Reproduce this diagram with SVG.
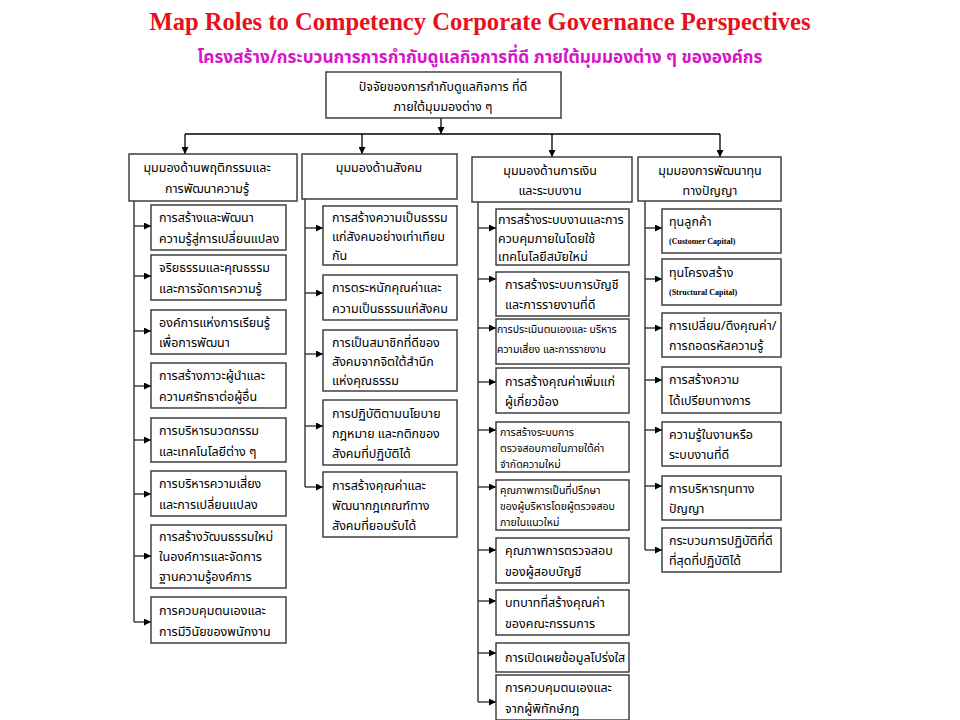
<svg xmlns="http://www.w3.org/2000/svg" width="960" height="720" viewBox="0 0 960 720">
<defs>
<marker id="ar" viewBox="0 0 10 10" refX="10" refY="5" markerWidth="8" markerHeight="7" markerUnits="userSpaceOnUse" orient="auto">
<path d="M0,0 L10,5 L0,10 z" fill="#000"/>
</marker>
<style>
.box{fill:#fff;stroke:#333;stroke-width:1.4}
.ln{fill:none;stroke:#333;stroke-width:1.4}
.lk{fill:none;stroke:#000;stroke-width:1.3}
.t{font-family:"Noto Sans Thai","Noto Sans","DejaVu Sans",sans-serif;font-size:12.5px;fill:#000}
.s{font-family:"Noto Sans Thai","Noto Sans","DejaVu Sans",sans-serif;font-size:10.5px;fill:#000}
.c{text-anchor:middle}
.e{font-family:"Liberation Serif",serif;font-size:8px;font-weight:bold;fill:#000}
</style>
</defs>
<rect width="960" height="720" fill="#fff"/>
<g id="title">
<text x="480" y="30" text-anchor="middle" font-family="'Liberation Serif',serif" font-weight="bold" font-size="24.6" fill="#e8101c">Map Roles to Competency Corporate Governance Perspectives</text>
<text x="480" y="63" text-anchor="middle" font-family="'Noto Sans Thai','Noto Sans',sans-serif" font-weight="bold" font-size="18" fill="#d616c8" textLength="565" lengthAdjust="spacingAndGlyphs">โครงสร้าง/กระบวนการการกำกับดูแลกิจการที่ดี ภายใต้มุมมองต่าง ๆ ขององค์กร</text>
</g>
<g id="connectors">
<path class="lk" d="M441,118 V134" marker-end="url(#ar)"/>
<path class="lk" d="M185,134 H720"/>
<path class="lk" d="M185,134 V154" marker-end="url(#ar)"/>
<path class="lk" d="M362,134 V154" marker-end="url(#ar)"/>
<path class="lk" d="M552,134 V157" marker-end="url(#ar)"/>
<path class="lk" d="M720,134 V157" marker-end="url(#ar)"/>
<path class="ln" d="M134,201 V622"/>
<path class="ln" d="M134,226 H151" marker-end="url(#ar)"/>
<path class="ln" d="M134,276 H151" marker-end="url(#ar)"/>
<path class="ln" d="M134,331 H151" marker-end="url(#ar)"/>
<path class="ln" d="M134,386 H151" marker-end="url(#ar)"/>
<path class="ln" d="M134,440 H151" marker-end="url(#ar)"/>
<path class="ln" d="M134,494 H151" marker-end="url(#ar)"/>
<path class="ln" d="M134,556 H151" marker-end="url(#ar)"/>
<path class="ln" d="M134,622 H151" marker-end="url(#ar)"/>
<path class="ln" d="M305,199 V487"/>
<path class="ln" d="M305,228 H323" marker-end="url(#ar)"/>
<path class="ln" d="M305,293 H323" marker-end="url(#ar)"/>
<path class="ln" d="M305,354 H323" marker-end="url(#ar)"/>
<path class="ln" d="M305,426 H323" marker-end="url(#ar)"/>
<path class="ln" d="M305,487 H323" marker-end="url(#ar)"/>
<path class="ln" d="M478,202 V702"/>
<path class="ln" d="M478,228 H496" marker-end="url(#ar)"/>
<path class="ln" d="M478,279 H496" marker-end="url(#ar)"/>
<path class="ln" d="M478,328 H496" marker-end="url(#ar)"/>
<path class="ln" d="M478,382 H496" marker-end="url(#ar)"/>
<path class="ln" d="M478,430 H496" marker-end="url(#ar)"/>
<path class="ln" d="M478,487 H496" marker-end="url(#ar)"/>
<path class="ln" d="M478,550 H496" marker-end="url(#ar)"/>
<path class="ln" d="M478,601 H496" marker-end="url(#ar)"/>
<path class="ln" d="M478,653 H496" marker-end="url(#ar)"/>
<path class="ln" d="M478,702 H496" marker-end="url(#ar)"/>
<path class="ln" d="M645,201 V550"/>
<path class="ln" d="M645,228 H662" marker-end="url(#ar)"/>
<path class="ln" d="M645,279 H662" marker-end="url(#ar)"/>
<path class="ln" d="M645,328 H662" marker-end="url(#ar)"/>
<path class="ln" d="M645,380 H662" marker-end="url(#ar)"/>
<path class="ln" d="M645,430 H662" marker-end="url(#ar)"/>
<path class="ln" d="M645,486 H662" marker-end="url(#ar)"/>
<path class="ln" d="M645,550 H662" marker-end="url(#ar)"/>
</g>
<g id="root"><rect class="box" x="326" y="72" width="235" height="46"/>
<text class="t c" x="443" y="91">ปัจจัยของการกำกับดูแลกิจการ ที่ดี</text>
<text class="t c" x="443" y="111">ภายใต้มุมมองต่าง ๆ</text></g>
<g id="h1"><rect class="box" x="129" y="154" width="168" height="47"/>
<text class="t c" x="207" y="172">มุมมองด้านพฤติกรรมและ</text>
<text class="t c" x="207" y="193">การพัฒนาความรู้</text></g>
<g id="h2"><rect class="box" x="302" y="154" width="155" height="45"/>
<text class="t c" x="379" y="172">มุมมองด้านสังคม</text></g>
<g id="h3"><rect class="box" x="472" y="157" width="160" height="45"/>
<text class="t c" x="550" y="175">มุมมองด้านการเงิน</text>
<text class="t c" x="550" y="195">และระบบงาน</text></g>
<g id="h4"><rect class="box" x="638" y="157" width="143" height="44"/>
<text class="t c" x="710" y="175">มุมมองการพัฒนาทุน</text>
<text class="t c" x="710" y="195">ทางปัญญา</text></g>

<g id="a1"><rect class="box" x="151" y="205" width="135" height="45"/>
<text class="t" x="159" y="222">การสร้างและพัฒนา</text><text class="t" x="159" y="243">ความรู้สู่การเปลี่ยนแปลง</text></g>
<g id="a2"><rect class="box" x="151" y="255" width="135" height="45"/>
<text class="t" x="159" y="272">จริยธรรมและคุณธรรม</text><text class="t" x="159" y="293">และการจัดการความรู้</text></g>
<g id="a3"><rect class="box" x="151" y="310" width="135" height="44"/>
<text class="t" x="159" y="327">องค์การแห่งการเรียนรู้</text><text class="t" x="159" y="347">เพื่อการพัฒนา</text></g>
<g id="a4"><rect class="box" x="151" y="363" width="135" height="45"/>
<text class="t" x="159" y="380">การสร้างภาวะผู้นำและ</text><text class="t" x="159" y="401">ความศรัทธาต่อผู้อื่น</text></g>
<g id="a5"><rect class="box" x="151" y="418" width="135" height="44"/>
<text class="t" x="159" y="435">การบริหารนวตกรรม</text><text class="t" x="159" y="456">และเทคโนโลยีต่าง ๆ</text></g>
<g id="a6"><rect class="box" x="151" y="471" width="135" height="45"/>
<text class="t" x="159" y="488">การบริหารความเสี่ยง</text><text class="t" x="159" y="509">และการเปลี่ยนแปลง</text></g>
<g id="a7"><rect class="box" x="151" y="525" width="135" height="63"/>
<text class="t" x="159" y="541">การสร้างวัฒนธรรมใหม่</text><text class="t" x="159" y="561">ในองค์การและจัดการ</text><text class="t" x="159" y="581">ฐานความรู้องค์การ</text></g>
<g id="a8"><rect class="box" x="151" y="597" width="135" height="46"/>
<text class="t" x="159" y="615">การควบคุมตนเองและ</text><text class="t" x="159" y="636">การมีวินัยของพนักงาน</text></g>

<g id="b1"><rect class="box" x="323" y="206" width="134" height="59"/>
<text class="t" x="332" y="222">การสร้างความเป็นธรรม</text><text class="t" x="332" y="241">แก่สังคมอย่างเท่าเทียม</text><text class="t" x="332" y="260">กัน</text></g>
<g id="b2"><rect class="box" x="323" y="275" width="134" height="45"/>
<text class="t" x="332" y="292">การตระหนักคุณค่าและ</text><text class="t" x="332" y="313">ความเป็นธรรมแก่สังคม</text></g>
<g id="b3"><rect class="box" x="323" y="330" width="134" height="61"/>
<text class="t" x="332" y="347">การเป็นสมาชิกที่ดีของ</text><text class="t" x="332" y="366">สังคมจากจิตใต้สำนึก</text><text class="t" x="332" y="385">แห่งคุณธรรม</text></g>
<g id="b4"><rect class="box" x="323" y="400" width="134" height="65"/>
<text class="t" x="332" y="418">การปฏิบัติตามนโยบาย</text><text class="t" x="332" y="438">กฎหมาย และกติกของ</text><text class="t" x="332" y="458">สังคมที่ปฏิบัติได้</text></g>
<g id="b5"><rect class="box" x="323" y="472" width="134" height="65"/>
<text class="t" x="332" y="490">การสร้างคุณค่าและ</text><text class="t" x="332" y="510">พัฒนากฎเกณฑ์ทาง</text><text class="t" x="332" y="530">สังคมที่ยอมรับได้</text></g>

<g id="c1"><rect class="box" x="496" y="209" width="133" height="56"/>
<text class="t" x="498" y="224">การสร้างระบบงานและการ</text><text class="t" x="498" y="243">ควบคุมภายในโดยใช้</text><text class="t" x="498" y="261">เทคโนโลยีสมัยใหม่</text></g>
<g id="c2"><rect class="box" x="496" y="272" width="133" height="44"/>
<text class="t" x="505" y="289">การสร้างระบบการบัญชี</text><text class="t" x="505" y="309">และการรายงานที่ดี</text></g>
<g id="c3"><rect class="box" x="496" y="319" width="133" height="45"/>
<text class="s" x="497" y="333">การประเมินตนเองและ บริหาร</text><text class="s" x="497" y="353">ความเสี่ยง และการรายงาน</text></g>
<g id="c4"><rect class="box" x="496" y="368" width="133" height="45"/>
<text class="t" x="505" y="386">การสร้างคุณค่าเพิ่มแก่</text><text class="t" x="505" y="406">ผู้เกี่ยวข้อง</text></g>
<g id="c5"><rect class="box" x="496" y="422" width="133" height="50"/>
<text class="s" x="500" y="436">การสร้างระบบการ</text><text class="s" x="500" y="452">ตรวจสอบภายในภายใต้ค่า</text><text class="s" x="500" y="468">จำกัดความใหม่</text></g>
<g id="c6"><rect class="box" x="496" y="480" width="133" height="50"/>
<text class="s" x="500" y="494">คุณภาพการเป็นที่ปรึกษา</text><text class="s" x="500" y="510">ของผู้บริหารโดยผู้ตรวจสอบ</text><text class="s" x="500" y="526">ภายในแนวใหม่</text></g>
<g id="c7"><rect class="box" x="496" y="538" width="133" height="45"/>
<text class="t" x="505" y="555">คุณภาพการตรวจสอบ</text><text class="t" x="505" y="576">ของผู้สอบบัญชี</text></g>
<g id="c8"><rect class="box" x="496" y="590" width="133" height="45"/>
<text class="t" x="505" y="607">บทบาทที่สร้างคุณค่า</text><text class="t" x="505" y="628">ของคณะกรรมการ</text></g>
<g id="c9"><rect class="box" x="496" y="643" width="133" height="29"/>
<text class="t" x="505" y="662">การเปิดเผยข้อมูลโปร่งใส</text></g>
<g id="c10"><rect class="box" x="496" y="675" width="133" height="45"/>
<text class="t" x="505" y="692">การควบคุมตนเองและ</text><text class="t" x="505" y="713">จากผู้พิทักษ์กฎ</text></g>

<g id="d1"><rect class="box" x="662" y="209" width="119" height="44"/>
<text class="t" x="669" y="226">ทุนลูกค้า</text><text class="e" x="669" y="244">(Customer Capital)</text></g>
<g id="d2"><rect class="box" x="662" y="259" width="119" height="46"/>
<text class="t" x="669" y="277">ทุนโครงสร้าง</text><text class="e" x="669" y="295">(Structural Capital)</text></g>
<g id="d3"><rect class="box" x="662" y="313" width="119" height="44"/>
<text class="t" x="669" y="330">การเปลี่ยน/ดึงคุณค่า/</text><text class="t" x="669" y="350">การถอดรหัสความรู้</text></g>
<g id="d4"><rect class="box" x="662" y="367" width="119" height="46"/>
<text class="t" x="669" y="384">การสร้างความ</text><text class="t" x="669" y="405">ได้เปรียบทางการ</text></g>
<g id="d5"><rect class="box" x="662" y="422" width="119" height="44"/>
<text class="t" x="669" y="439">ความรู้ในงานหรือ</text><text class="t" x="669" y="459">ระบบงานที่ดี</text></g>
<g id="d6"><rect class="box" x="662" y="476" width="119" height="44"/>
<text class="t" x="669" y="493">การบริหารทุนทาง</text><text class="t" x="669" y="513">ปัญญา</text></g>
<g id="d7"><rect class="box" x="662" y="528" width="119" height="44"/>
<text class="t" x="669" y="545">กระบวนการปฏิบัติที่ดี</text><text class="t" x="669" y="565">ที่สุดที่ปฏิบัติได้</text></g>
</svg>
